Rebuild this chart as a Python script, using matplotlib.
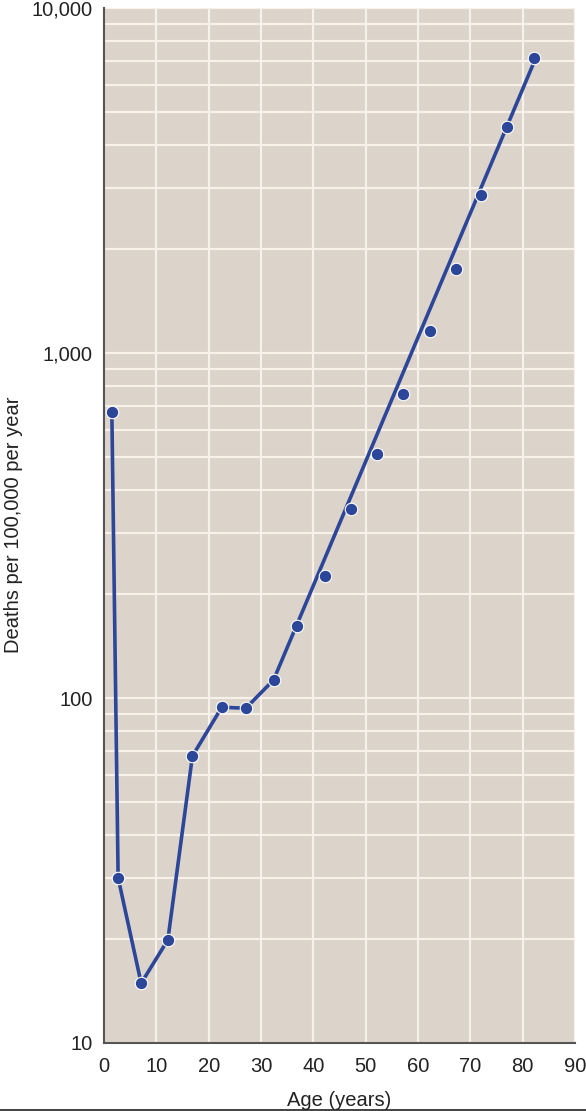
import matplotlib
matplotlib.use("Agg")
import matplotlib.pyplot as plt
from matplotlib.lines import Line2D

ages = [1.5, 2.7, 7.1, 12.2, 16.9, 22.5, 27.1, 32.4, 36.8, 42.2,
        47.2, 52.1, 57.2, 62.2, 67.3, 72.0, 77.1, 82.2]
deaths = [673, 30.1, 14.9, 19.9, 67.9, 94, 93.4, 112.8, 162, 225,
          352, 510, 759, 1161, 1752, 2871, 4510, 7178]

# the curve follows the points up to age ~32, then a straight (exponential) trend
n_joined = 8
trend_end_age = 82.7
trend_end_deaths = 7280

x_ticks = [0, 10, 20, 30, 40, 50, 60, 70, 80, 90]
y_ticks = [10, 100, 1000, 10000]
y_tick_labels = ["10", "100", "1,000", "10,000"]

plt.rcParams['font.family'] = ['Liberation Sans', 'DejaVu Sans']

bg = '#dcd3ca'
grid_c = '#f7f1ea'
blue = '#2c4699'
txt = '#222222'

fig = plt.figure(figsize=(5.86, 11.11), dpi=100)
ax = fig.add_axes([104 / 586, 1 - 1043 / 1111, 471 / 586, 1035 / 1111])
ax.set_facecolor(bg)
ax.set_yscale('log')
ax.set_xlim(0, 90)
ax.set_ylim(10, 10000)

# grid: vertical every 10 yrs, horizontal at every log step
ax.set_xticks(x_ticks)
ax.set_yticks(y_ticks)
ax.set_yticklabels(y_tick_labels)
ax.yaxis.set_minor_locator(matplotlib.ticker.LogLocator(base=10, subs=range(2, 10)))
ax.yaxis.set_minor_formatter(matplotlib.ticker.NullFormatter())
ax.grid(True, which='both', axis='y', color=grid_c, lw=1.6)
ax.grid(True, which='major', axis='x', color=grid_c, lw=1.6)
ax.set_axisbelow(True)

line_x = ages[:n_joined] + [trend_end_age]
line_y = deaths[:n_joined] + [trend_end_deaths]
ax.plot(line_x, line_y, color=blue, lw=2.6, solid_joinstyle='round', zorder=3)
ax.plot(ages, deaths, 'o', color=blue, ms=9, mec='white', mew=0.8, zorder=4)

for s in ['top', 'right']:
    ax.spines[s].set_visible(False)
for s in ['left', 'bottom']:
    ax.spines[s].set_color('#555555')
    ax.spines[s].set_linewidth(1.5)

ax.tick_params(which='both', length=0, labelsize=14.5, colors=txt)
ax.tick_params(axis='x', pad=10)
ax.tick_params(axis='y', pad=8)

# axis titles placed in figure pixels
fig.text(339.5 / 586, 1 - 1106 / 1111, 'Age (years)', fontsize=14.5, color=txt,
         ha='center', va='baseline')
fig.text(14 / 586, 1 - 525 / 1111, 'Deaths per 100,000 per year', fontsize=14.5,
         color=txt, rotation=90, ha='center', va='center')

# rule at the very bottom of the figure
fig.add_artist(Line2D([0, 1], [1 - 1109.5 / 1111] * 2, transform=fig.transFigure,
                      color='#333333', lw=1.3))

fig.savefig('out.png', dpi=100)
